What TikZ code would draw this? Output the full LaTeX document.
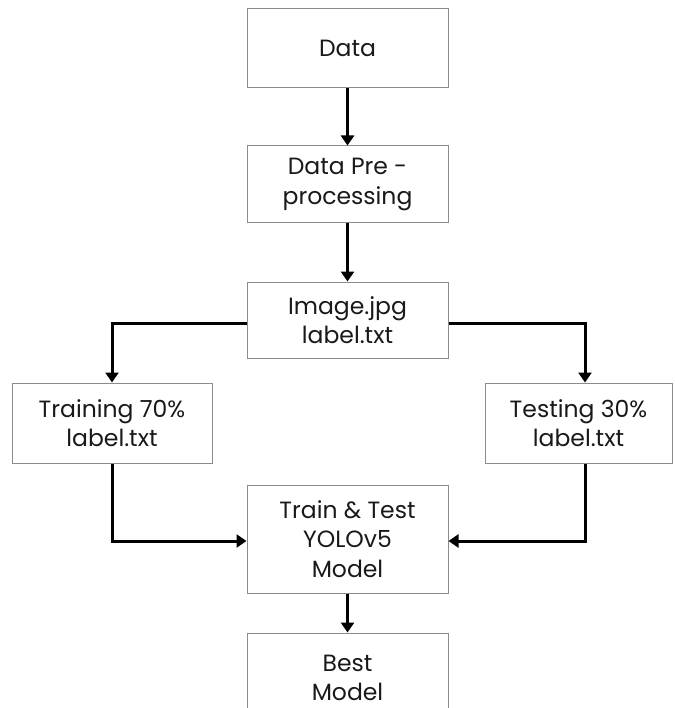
\documentclass[tikz,border=0pt]{standalone}
\usepackage{fontspec}
\setmainfont{Poppins}
\usetikzlibrary{arrows.meta}
\begin{document}
\begin{tikzpicture}[x=1pt,y=-1pt,
  box/.style={draw=black!45, line width=1pt, rectangle, inner sep=0pt,
    align=center, font=\fontsize{23.5}{29.5}\selectfont, text=black!90},
  flow/.style={line width=3pt, -{Triangle[length=10pt,width=13pt]}}]
  \useasboundingbox (0,0) rectangle (674,708);
  % boxes given by their corners
  \node[box, minimum width=201pt, minimum height=79pt] (data) at (347.5,48.5) {Data};
  \node[box, minimum width=201pt, minimum height=77pt] (pre) at (347.5,184.5) {Data Pre -\\processing};
  \node[box, minimum width=201pt, minimum height=76pt] (img) at (347.5,320) {Image.jpg\\label.txt};
  \node[box, minimum width=200pt, minimum height=80pt] (train) at (112,423) {Training 70\%\\label.txt};
  \node[box, minimum width=187pt, minimum height=80pt] (test) at (578.5,423) {Testing 30\%\\label.txt};
  \node[box, minimum width=201pt, minimum height=108pt] (tt) at (347.5,539) {Train \& Test\\YOLOv5\\Model};
  \node[box, minimum width=201pt, minimum height=90pt] (best) at (347.5,678) {Best\\Model};
  % connectors
  \draw[flow] (data) -- (pre);
  \draw[flow] (pre) -- (img);
  \draw[flow] (img.west |- 0,323) -| (train.north);
  \draw[flow] (img.east |- 0,323) -| (test.north -| 585,0);
  \draw[flow] (train.south) |- (tt.west |- 0,541);
  \draw[flow] (test.south -| 585,0) |- (tt.east |- 0,541);
  \draw[flow] (tt) -- (best);
\end{tikzpicture}
\end{document}
